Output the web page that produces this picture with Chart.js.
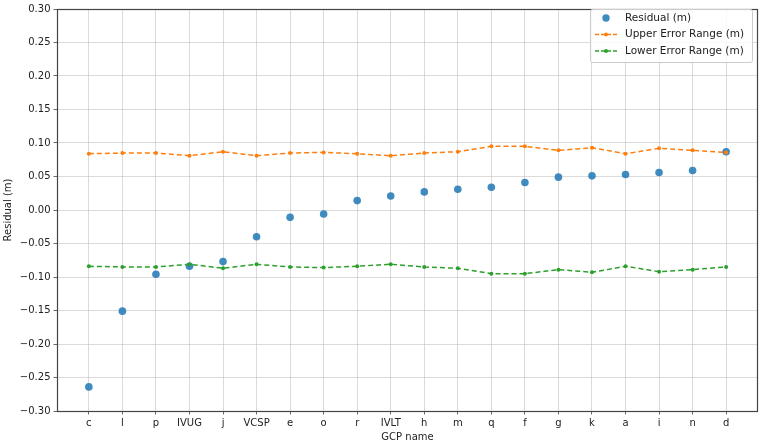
<!DOCTYPE html>
<html lang="en">
<head>
    <meta charset="UTF-8">
    <title>GCP residuals</title>
    <script src="https://cdn.jsdelivr.net/npm/chart.js"></script>
    <style>
        body { margin: 0; background: #fff; }
        canvas { display: block; }
    </style>
</head>
<body>
    <canvas id="residualChart" width="760" height="443"></canvas>
    <script>
        // GCP names along the x axis
        const gcpNames = ["c", "l", "p", "IVUG", "j", "VCSP", "e", "o", "r", "IVLT",
            "h", "m", "q", "f", "g", "k", "a", "i", "n", "d"]

        const residuals = [-0.264, -0.151, -0.096, -0.084, -0.077, -0.040, -0.011, -0.006, 0.014, 0.021,
            0.027, 0.031, 0.034, 0.041, 0.049, 0.051, 0.053, 0.056, 0.059, 0.087]

        const upperRange = [0.084, 0.085, 0.085, 0.081, 0.087, 0.081, 0.085, 0.086, 0.084, 0.081,
            0.085, 0.087, 0.095, 0.095, 0.089, 0.093, 0.084, 0.092, 0.089, 0.086]

        const lowerRange = [-0.084, -0.085, -0.085, -0.081, -0.087, -0.081, -0.085, -0.086, -0.084, -0.081,
            -0.085, -0.087, -0.095, -0.095, -0.089, -0.093, -0.084, -0.092, -0.089, -0.085]

        const yTicks = [-0.30, -0.25, -0.20, -0.15, -0.10, -0.05, 0.00, 0.05, 0.10, 0.15, 0.20, 0.25, 0.30]

        const FONT = "'DejaVu Sans', sans-serif"
        const BLUE = "rgba(31, 119, 180, 0.85)"
        const ORANGE = "#ff7f0e"
        const GREEN = "#2ca02c"
        const GRID = "rgba(190,190,190,0.7)"

        function toPoints(values) {
            return values.map((v, i) => ({ x: i, y: v }))
        }

        function fmt(v) {
            let s = Math.abs(v).toFixed(2)
            return v < -1e-9 ? "\u2212" + s : s
        }

        // frame around plot + legend box in upper right
        const framePlugin = {
            id: "frame",
            afterDraw(chart) {
                const ctx = chart.ctx
                const a = chart.chartArea
                ctx.save()
                ctx.strokeStyle = "#444"
                ctx.lineWidth = 1.2
                ctx.strokeRect(a.left + 0.5, a.top + 0.5, a.right - a.left - 1, a.bottom - a.top)

                // legend
                const bx = 590, by = 9, bw = 162, bh = 53
                ctx.fillStyle = "rgba(255,255,255,0.8)"
                ctx.strokeStyle = "#cccccc"
                ctx.lineWidth = 1
                ctx.beginPath()
                ctx.roundRect(bx + 0.5, by + 0.5, bw, bh, 2)
                ctx.fill()
                ctx.stroke()

                const items = [
                    { label: "Residual (m)", type: "dot" },
                    { label: "Upper Error Range (m)", type: "line", color: ORANGE },
                    { label: "Lower Error Range (m)", type: "line", color: GREEN }
                ]
                ctx.font = "10.5px " + FONT
                ctx.textBaseline = "middle"
                items.forEach((item, k) => {
                    const y = by + 9 + k * 16.5
                    if (item.type === "dot") {
                        ctx.fillStyle = BLUE
                        ctx.beginPath()
                        ctx.arc(606, y, 3.7, 0, Math.PI * 2)
                        ctx.fill()
                    } else {
                        ctx.strokeStyle = item.color
                        ctx.lineWidth = 1.5
                        ctx.setLineDash([4, 2])
                        ctx.beginPath()
                        ctx.moveTo(595, y)
                        ctx.lineTo(617, y)
                        ctx.stroke()
                        ctx.setLineDash([])
                        ctx.fillStyle = item.color
                        ctx.beginPath()
                        ctx.arc(606, y, 2, 0, Math.PI * 2)
                        ctx.fill()
                    }
                    ctx.fillStyle = "#222"
                    ctx.fillText(item.label, 625, y)
                })
                ctx.restore()
            }
        }

        const ctx = document.getElementById("residualChart")

        const residualChart = new Chart(ctx, {
            type: "scatter",
            data: {
                datasets: [
                    {
                        label: "Residual (m)",
                        data: toPoints(residuals),
                        showLine: false,
                        pointRadius: 3.8,
                        pointHoverRadius: 3.8,
                        pointBackgroundColor: BLUE,
                        pointBorderWidth: 0,
                        order: 3
                    },
                    {
                        label: "Upper Error Range (m)",
                        data: toPoints(upperRange),
                        showLine: true,
                        borderColor: ORANGE,
                        borderWidth: 1.5,
                        borderDash: [5, 3],
                        pointRadius: 2,
                        pointBackgroundColor: ORANGE,
                        pointBorderWidth: 0,
                        order: 2
                    },
                    {
                        label: "Lower Error Range (m)",
                        data: toPoints(lowerRange),
                        showLine: true,
                        borderColor: GREEN,
                        borderWidth: 1.5,
                        borderDash: [5, 3],
                        pointRadius: 2,
                        pointBackgroundColor: GREEN,
                        pointBorderWidth: 0,
                        order: 1
                    }
                ]
            },
            options: {
                responsive: false,
                animation: false,
                devicePixelRatio: 1,
                layout: {
                    autoPadding: false,
                    padding: { top: 4, right: 2, left: 0, bottom: 0 }
                },
                plugins: {
                    legend: { display: false },
                    tooltip: { enabled: false }
                },
                scales: {
                    x: {
                        type: "linear",
                        min: -0.95,
                        max: gcpNames.length - 1 + 0.95,
                        afterBuildTicks: (scale) => {
                            scale.ticks = gcpNames.map((_, i) => ({ value: i }))
                        },
                        afterFit: (scale) => { scale.height = 32 },
                        ticks: {
                            autoSkip: false,
                            maxRotation: 0,
                            padding: 3,
                            color: "#222",
                            font: { family: FONT, size: 10 },
                            callback: (v) => gcpNames[v] ?? ""
                        },
                        grid: {
                            color: GRID,
                            lineWidth: 0.8,
                            borderDash: [1, 1],
                            tickLength: 3.5,
                            tickColor: "#444",
                            tickBorderDash: []
                        },
                        border: { display: false },
                        title: {
                            display: true,
                            text: "GCP name",
                            color: "#222",
                            font: { family: FONT, size: 10 },
                            padding: { top: 0, bottom: 0 }
                        }
                    },
                    y: {
                        min: -0.3,
                        max: 0.3,
                        afterBuildTicks: (scale) => {
                            scale.ticks = yTicks.map(v => ({ value: v }))
                        },
                        afterFit: (scale) => { scale.width = 57 },
                        ticks: {
                            padding: 3,
                            color: "#222",
                            font: { family: FONT, size: 10 },
                            callback: (v) => fmt(v)
                        },
                        grid: {
                            color: GRID,
                            lineWidth: 0.8,
                            borderDash: [1, 1],
                            tickLength: 3.5,
                            tickColor: "#444",
                            tickBorderDash: []
                        },
                        border: { display: false },
                        title: {
                            display: true,
                            text: "Residual (m)",
                            color: "#222",
                            font: { family: FONT, size: 10 },
                            padding: { top: 2, bottom: 0 }
                        }
                    }
                }
            },
            plugins: [framePlugin]
        })
    </script>
</body>
</html>
